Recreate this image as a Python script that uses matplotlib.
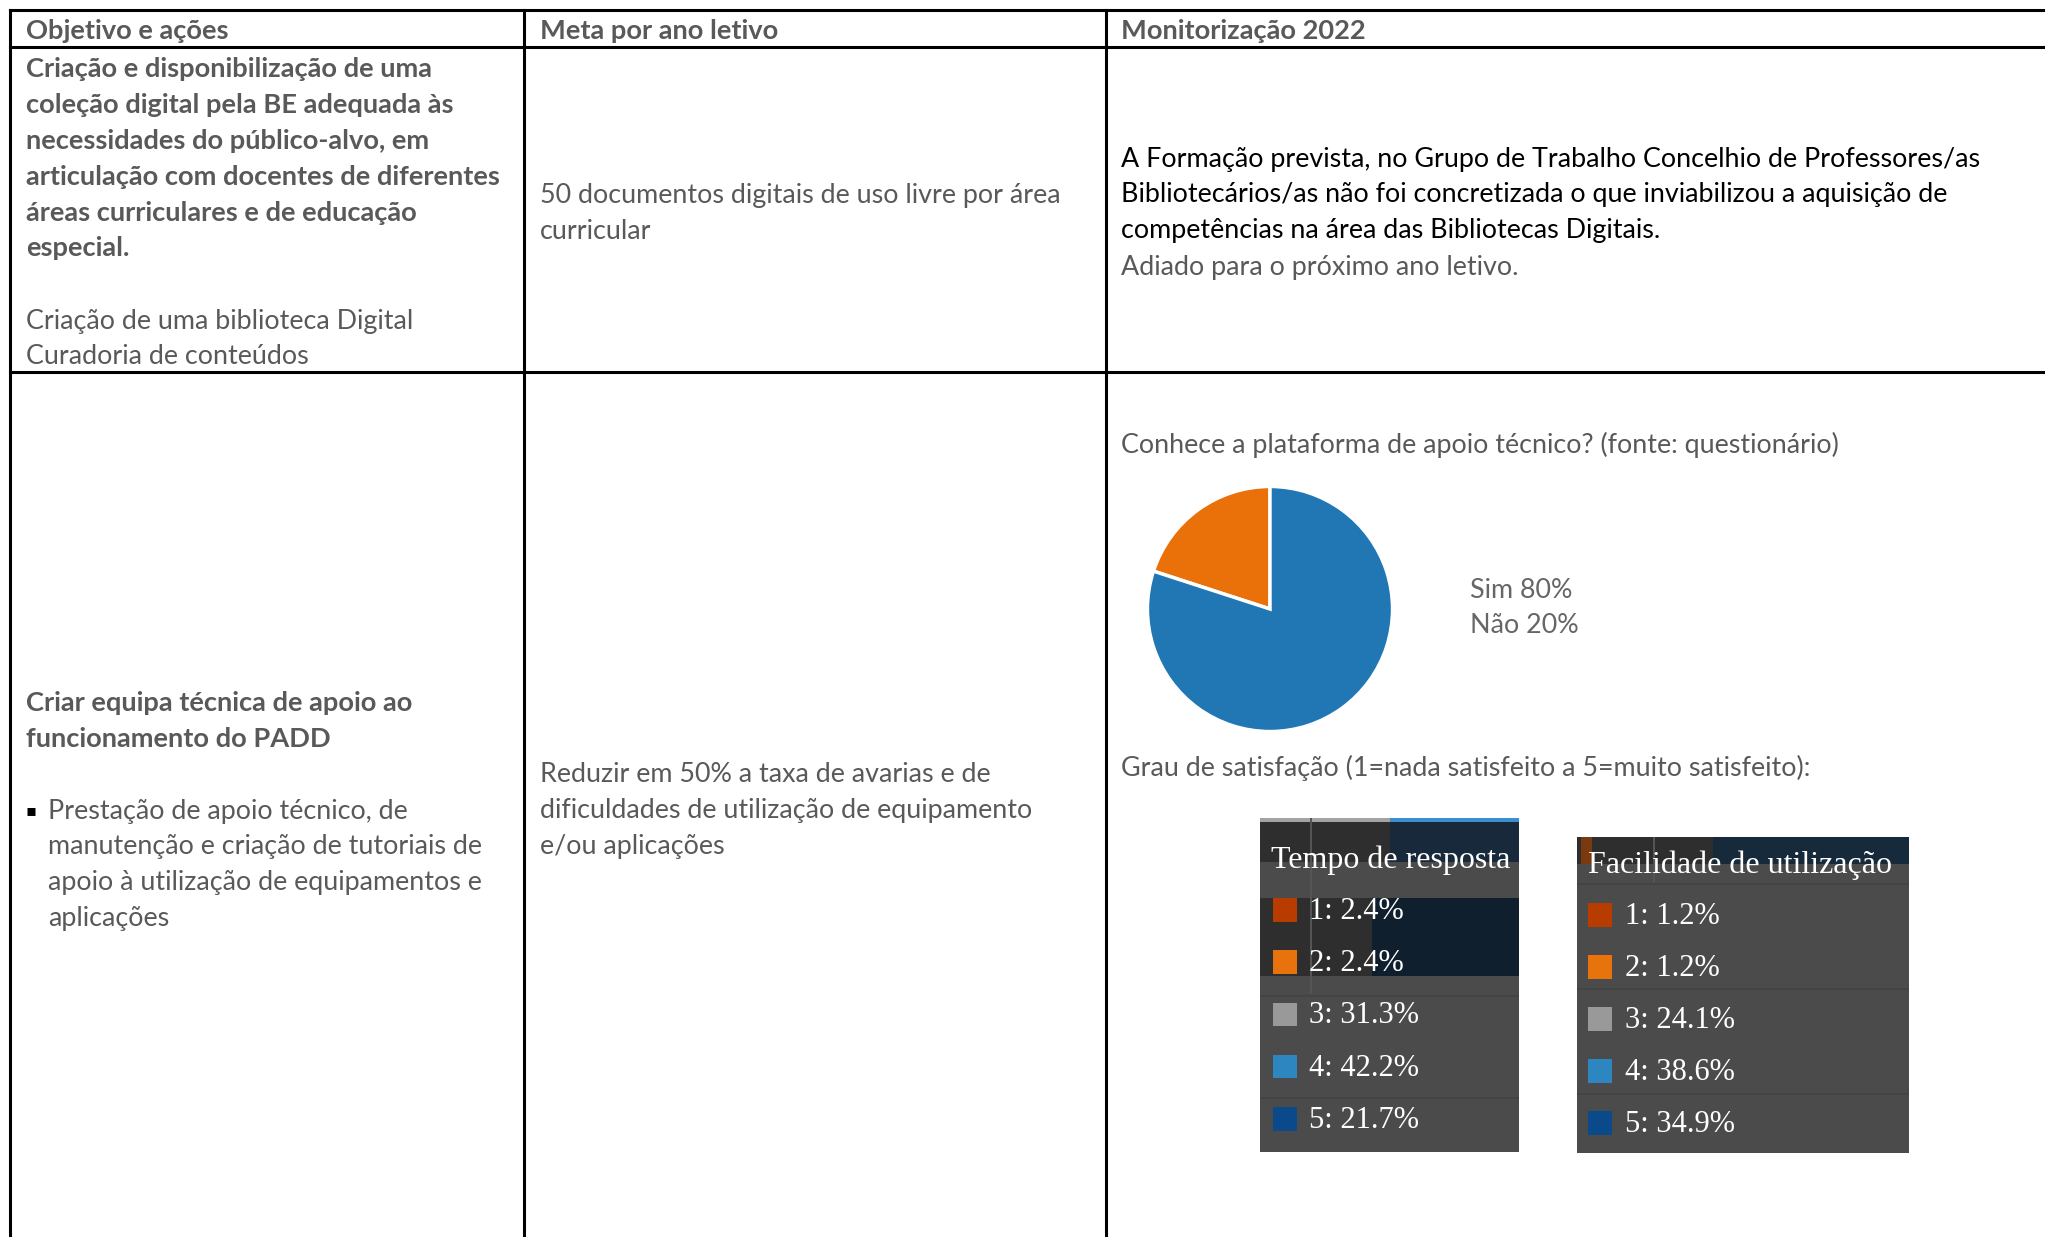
import matplotlib.pyplot as plt
from matplotlib.patches import Rectangle

# ---- dados ----
cabecalho = ["Objetivo e ações", "Meta por ano letivo", "Monitorização 2022"]

linha1_obj_bold = ["Criação e disponibilização de uma",
                   "coleção digital pela BE adequada às",
                   "necessidades do público-alvo, em",
                   "articulação com docentes de diferentes",
                   "áreas curriculares e de educação",
                   "especial."]
linha1_obj_reg = ["Criação de uma biblioteca Digital", "Curadoria de conteúdos"]
linha1_meta = ["50 documentos digitais de uso livre por área", "curricular"]
linha1_monit = ["A Formação prevista, no Grupo de Trabalho Concelhio de Professores/as",
                "Bibliotecários/as não foi concretizada o que inviabilizou a aquisição de",
                "competências na área das Bibliotecas Digitais."]
linha1_adiado = "Adiado para o próximo ano letivo."

linha2_obj_bold = ["Criar equipa técnica de apoio ao", "funcionamento do PADD"]
linha2_bullet = ["Prestação de apoio técnico, de",
                 "manutenção e criação de tutoriais de",
                 "apoio à utilização de equipamentos e",
                 "aplicações"]
linha2_meta = ["Reduzir em 50% a taxa de avarias e de",
               "dificuldades de utilização de equipamento",
               "e/ou aplicações"]

pergunta_pie = "Conhece a plataforma de apoio técnico? (fonte: questionário)"
pie_labels = ["Não", "Sim"]
pie_values = [20, 80]
pie_colors = ["#ea7009", "#2077b4"]

pergunta_grau = "Grau de satisfação (1=nada satisfeito a 5=muito satisfeito):"
niveis = [1, 2, 3, 4, 5]
tempo_resposta = [2.4, 2.4, 31.3, 42.2, 21.7]
facilidade = [1.2, 1.2, 24.1, 38.6, 34.9]
niveis_cores = ["#b83c00", "#e8730c", "#999999", "#2e86c1", "#0a4a8a"]

W, H = 2045, 1237
fig = plt.figure(figsize=(W / 100, H / 100), dpi=100)
ax = fig.add_axes([0, 0, 1, 1])
ax.set_xlim(0, W)
ax.set_ylim(H, 0)
ax.axis('off')

fig.canvas.draw()
renderer = fig.canvas.get_renderer()


def fit_size(s, width_px, weight='normal', family='Lato'):
    t = fig.text(0, 0, s, fontsize=10, family=family, weight=weight)
    w = t.get_window_extent(renderer).width
    t.remove()
    return 10 * width_px / w


fs_reg = fit_size(linha1_monit[0], 863)
fs_bold = fit_size(linha1_obj_bold[3], 477, 'bold')
cinza = '#595959'
dy = 3  # pequeno ajuste vertical do texto


def escreve(x, y, s, cor=cinza, bold=False):
    ax.text(x, y + dy, s, fontsize=fs_bold if bold else fs_reg, family='Lato',
            weight='bold' if bold else 'normal', color=cor, va='center', ha='left')


# linhas da tabela
lw = 2.2
for x in [10, 524, 1106]:
    ax.plot([x, x], [10, H], color='black', lw=lw)
for y in [10, 47, 372]:
    ax.plot([10, W], [y, y], color='black', lw=lw)

# cabecalho
for x, s in zip([26, 540, 1121], cabecalho):
    escreve(x, 28, s, bold=True)

passo = 35.9
for i, s in enumerate(linha1_obj_bold):
    escreve(26, 66 + i * passo, s, bold=True)
for i, s in enumerate(linha1_obj_reg):
    escreve(26, 318 + i * passo, s)
for i, s in enumerate(linha1_meta):
    escreve(540, 193 + i * passo, s)
for i, s in enumerate(linha1_monit):
    escreve(1121, 156 + i * passo, s, cor='black')
escreve(1121, 265, linha1_adiado)

for i, s in enumerate(linha2_obj_bold):
    escreve(26, 700 + i * passo, s, bold=True)
ax.text(31, 808 + dy, "▪", fontsize=fs_reg * 0.6, family='DejaVu Sans', color='black',
        va='center', ha='center')
for i, s in enumerate(linha2_bullet):
    escreve(48, 808 + i * passo, s)
for i, s in enumerate(linha2_meta):
    escreve(540, 772 + i * passo, s)

escreve(1121, 442, pergunta_pie)
escreve(1121, 765, pergunta_grau)

# pie
cx, cy, r = 1270, 609, 125
pax = fig.add_axes([(cx - r) / W, (H - cy - r) / H, 2 * r / W, 2 * r / H])
pax.pie(pie_values, colors=pie_colors, startangle=90, counterclock=True,
        wedgeprops=dict(edgecolor='white', linewidth=2.5))
pax.set_xlim(-1.02, 1.02)
pax.set_ylim(-1.02, 1.02)
for i, (lab, v) in enumerate(zip(pie_labels[::-1], pie_values[::-1])):
    escreve(1470, 587 + i * passo, f"{lab} {v}%", cor='#666666')


# caixas escuras (legendas de satisfacao)
def caixa(x0, y0, x1, y1, titulo, valores, sq_x, tx_x, row0, passo_r, fundo):
    bw, bh = x1 - x0, y1 - y0
    bx = fig.add_axes([x0 / W, (H - y1) / H, bw / W, bh / H])
    bx.set_xlim(0, bw)
    top = (y0 - row0) / passo_r
    bot = (y1 - row0) / passo_r
    bx.set_ylim(bot, top)
    bx.set_facecolor('#4b4b4b')
    bx.set_xticks([])
    bx.set_yticks([])
    for sp in bx.spines.values():
        sp.set_visible(False)
    # restos do grafico original por tras da legenda (pixels -> linhas)
    for (rx, ry, rw, rh, c) in fundo:
        bx.add_patch(Rectangle((rx, top + ry / passo_r), rw, rh / passo_r,
                               color=c, lw=0, zorder=0))
    bx.text(11, top + (row0 - 50 - y0) / passo_r, titulo, family='Liberation Serif',
            fontsize=23, color='white', va='center', ha='left')
    bx.barh(range(len(valores)), 24, left=sq_x, height=0.45,
            color=niveis_cores, zorder=2)
    for i, v in enumerate(valores):
        bx.text(tx_x, i + 0.03, f"{niveis[i]}: {v}%", family='Liberation Serif',
                fontsize=22, color='white', va='center', ha='left', zorder=3)


fundo1 = [(0, 0, 130, 3.5, '#a3a3a3'), (130, 0, 129, 3.5, '#3a8fd0'),
          (0, 3.5, 130, 40, '#2e2e2e'), (130, 3.5, 129, 40, '#17293a'),
          (0, 80, 112, 78, '#2e2e2e'), (112, 80, 147, 78, '#0f1f2e'),
          (50, 0, 1.5, 175, '#555555'), (0, 177, 259, 1.5, '#444444'),
          (0, 279, 259, 1.5, '#444444')]
fundo2 = [(0, 0, 136, 27, '#2e2e2e'), (136, 0, 196, 27, '#172a3b'),
          (4, 0, 11, 27, '#7a3a10'), (76, 0, 1.5, 45, '#555555'),
          (0, 46, 332, 1.5, '#444444'), (0, 151, 332, 1.5, '#444444'),
          (0, 256, 332, 1.5, '#444444')]

caixa(1260, 818, 1519, 1152, "Tempo de resposta", tempo_resposta, 13, 49, 910, 52.2, fundo1)
caixa(1577, 837, 1909, 1153, "Facilidade de utilização", facilidade, 11, 48, 915, 52.0, fundo2)

plt.savefig('out.png', dpi=100)
